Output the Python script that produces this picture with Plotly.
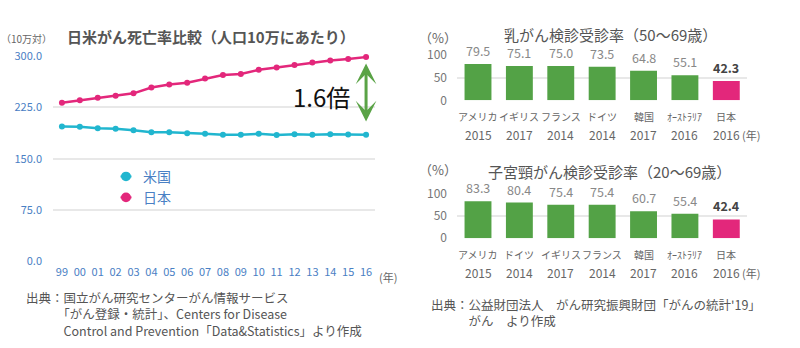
import plotly.graph_objects as go

# ---- data -------------------------------------------------------------
years = ["99", "00", "01", "02", "03", "04", "05", "06", "07", "08",
         "09", "10", "11", "12", "13", "14", "15", "16"]
japan_rate = [231.6, 235.2, 238.8, 241.7, 245.4, 253.9, 258.3, 261.0, 266.9,
              272.3, 273.5, 279.7, 283.2, 286.6, 290.3, 293.5, 295.5, 298.3]
usa_rate = [197.0, 196.5, 194.4, 193.5, 191.5, 188.6, 188.7, 187.0, 186.2,
            185.0, 184.9, 186.2, 184.6, 185.6, 185.0, 185.6, 185.4, 185.1]

breast_countries = ["アメリカ", "イギリス", "フランス", "ドイツ", "韓国", "ｵｰｽﾄﾗﾘｱ", "日本"]
breast_years = ["2015", "2017", "2014", "2014", "2017", "2016", "2016"]
breast_rates = [79.5, 75.1, 75.0, 73.5, 64.8, 55.1, 42.3]

cervical_countries = ["アメリカ", "ドイツ", "イギリス", "フランス", "韓国", "ｵｰｽﾄﾗﾘｱ", "日本"]
cervical_years = ["2015", "2014", "2017", "2014", "2017", "2016", "2016"]
cervical_rates = [83.3, 80.4, 75.4, 75.4, 60.7, 55.4, 42.4]

# ---- style ------------------------------------------------------------
W, H = 800, 348
FONT = "Noto Sans CJK JP, sans-serif"
PINK = "#e3277b"
CYAN = "#21b6cf"
GREEN = "#53a246"
BLUE_TXT = "#4a80c4"
GRAY_TXT = "#666666"
GRID = "#e8e8e8"


def px(x):
    return x / W


def py(y):
    return 1 - y / H


fig = go.Figure()

# ---- left: mortality lines -------------------------------------------
fig.add_trace(go.Scatter(x=years, y=usa_rate, mode="lines+markers", name="米国",
                         line=dict(color=CYAN, width=2.5),
                         marker=dict(size=6, color=CYAN),
                         cliponaxis=False, showlegend=False,
                         xaxis="x", yaxis="y"))
fig.add_trace(go.Scatter(x=years, y=japan_rate, mode="lines+markers", name="日本",
                         line=dict(color=PINK, width=2.5),
                         marker=dict(size=6, color=PINK),
                         cliponaxis=False, showlegend=False,
                         xaxis="x", yaxis="y"))


# ---- right: screening bars -------------------------------------------
def bar_colors(countries):
    return [PINK if c == "日本" else GREEN for c in countries]


fig.add_trace(go.Bar(x=breast_countries, y=breast_rates,
                     marker=dict(color=bar_colors(breast_countries), line=dict(width=0)),
                     showlegend=False, xaxis="x2", yaxis="y2"))
fig.add_trace(go.Bar(x=cervical_countries, y=cervical_rates,
                     marker=dict(color=bar_colors(cervical_countries), line=dict(width=0)),
                     showlegend=False, xaxis="x3", yaxis="y3"))

annotations = []
shapes = []


def label(text, x, y, size, color="#555555", xanchor="left", bold=False, **kw):
    if bold:
        text = f"<b>{text}</b>"
    d = dict(text=text, x=x, y=y, xref="paper", yref="paper", showarrow=False,
             xanchor=xanchor, yanchor="middle", borderpad=0,
             font=dict(family=FONT, size=size, color=color))
    d.update(kw)
    annotations.append(d)


# titles & units
label("日米がん死亡率比較（人口10万にあたり）", px(211), py(28), 15, "#555555", "center", bold=True)
label("（10万対）", px(0), py(30), 10, "#666666")
label("(年)", px(378), py(281), 11, "#666666")
label("乳がん検診受診率（50〜69歳）", px(610), py(25.5), 15, "#555555", "center")
label("（%）", px(418), py(29), 13, "#666666")
label("子宮頸がん検診受診率（20〜69歳）", px(609), py(170), 15, "#555555", "center")
label("（%）", px(418), py(168), 13, "#666666")

# legend for the two lines
for name, color, ly in (("米国", CYAN, 175), ("日本", PINK, 197)):
    shapes.append(dict(type="line", xref="paper", yref="paper",
                       x0=px(120.5), x1=px(131.5), y0=py(ly), y1=py(ly),
                       line=dict(color=color, width=2)))
    shapes.append(dict(type="circle", xref="paper", yref="paper",
                       x0=px(121), x1=px(131), y0=py(ly + 5), y1=py(ly - 5),
                       fillcolor=color, line=dict(color=color, width=0)))
    label(name, px(142), py(ly), 14, BLUE_TXT)

# ratio call-out
label("1.6倍", px(321), py(91), 24, "#111111", "center")
annotations.append(dict(x=17, y=289, ax=17, ay=202, xref="x", yref="y",
                        axref="x", ayref="y", text="", showarrow=True,
                        arrowhead=3, startarrowhead=3, arrowside="end+start",
                        arrowsize=1.15, startarrowsize=1.15,
                        arrowwidth=3, arrowcolor="#5aa346"))

# sources
label("出典：国立がん研究センターがん情報サービス<br>"
      "　　　「がん登録・統計」、Centers for Disease<br>"
      "　　　Control and Prevention「Data&Statistics」より作成",
      px(25), py(320), 12.5, "#555555", align="left")
label("出典：公益財団法人　がん研究振興財団「がんの統計'19」<br>"
      "　　　がん　より作成",
      px(430), py(318.5), 12.5, "#555555", align="left")


def bar_labels(countries, yrs, rates, xref, yref, name_y, year_y):
    for c, yr, v in zip(countries, yrs, rates):
        is_jp = c == "日本"
        txt = f"<b>{v:.1f}</b>" if is_jp else f"{v:.1f}"
        annotations.append(dict(text=txt, x=c, y=v, xref=xref, yref=yref,
                                showarrow=False, yanchor="middle", yshift=13.5,
                                borderpad=0,
                                font=dict(family=FONT, size=12.5,
                                          color="#444444" if is_jp else "#888888")))
        annotations.append(dict(text=c, x=c, y=py(name_y), xref=xref, yref="paper",
                                showarrow=False, yanchor="middle", borderpad=0,
                                font=dict(family=FONT, size=10, color=GRAY_TXT)))
        annotations.append(dict(text=yr, x=c, y=py(year_y), xref=xref, yref="paper",
                                showarrow=False, yanchor="middle", borderpad=0,
                                font=dict(family=FONT, size=12, color=GRAY_TXT)))
    label("(年)", px(741), py(year_y), 11, GRAY_TXT)


bar_labels(breast_countries, breast_years, breast_rates, "x2", "y2", 112, 131)
bar_labels(cervical_countries, cervical_years, cervical_rates, "x3", "y3", 257, 276)

# ---- axes ------------------------------------------------------------
line_y = dict(domain=[py(264.3), py(48.3)], range=[0, 300],
              tickvals=[0, 75, 150, 225, 300], tickformat=".1f",
              showgrid=True, gridcolor=GRID, gridwidth=1.5, zeroline=False,
              showline=False, ticks="", ticklabelstandoff=10,
              tickfont=dict(family=FONT, size=11, color=BLUE_TXT))
line_x = dict(domain=[px(53), px(375)], type="category",
              range=[-0.5, len(years) - 0.5],
              showgrid=False, showline=False, zeroline=False, ticks="",
              ticklabelstandoff=3,
              tickfont=dict(family=FONT, size=11, color=BLUE_TXT), anchor="y")


def bar_axes(top, bottom, anchor):
    xa = dict(domain=[px(457), px(747)], type="category", showticklabels=False,
              showgrid=False, showline=False, zeroline=False, ticks="", anchor=anchor)
    ya = dict(domain=[py(bottom), py(top)], range=[0, 100], tickvals=[0, 50, 100],
              showgrid=True, gridcolor=GRID, gridwidth=1.5, zeroline=False,
              showline=False, ticks="", ticklabelstandoff=9,
              tickfont=dict(family=FONT, size=12, color="#777777"))
    return xa, ya


x2, y2 = bar_axes(47, 95, "y2")
x3, y3 = bar_axes(193.3, 240, "y3")
y2["anchor"] = "x2"
y3["anchor"] = "x3"

fig.update_layout(
    width=W, height=H, margin=dict(l=0, r=0, t=0, b=0),
    paper_bgcolor="white", plot_bgcolor="white",
    font=dict(family=FONT),
    xaxis=line_x, yaxis=line_y,
    xaxis2=x2, yaxis2=y2, xaxis3=x3, yaxis3=y3,
    bargap=0.35, showlegend=False,
    annotations=annotations, shapes=shapes,
)

fig.write_html("out.html")
